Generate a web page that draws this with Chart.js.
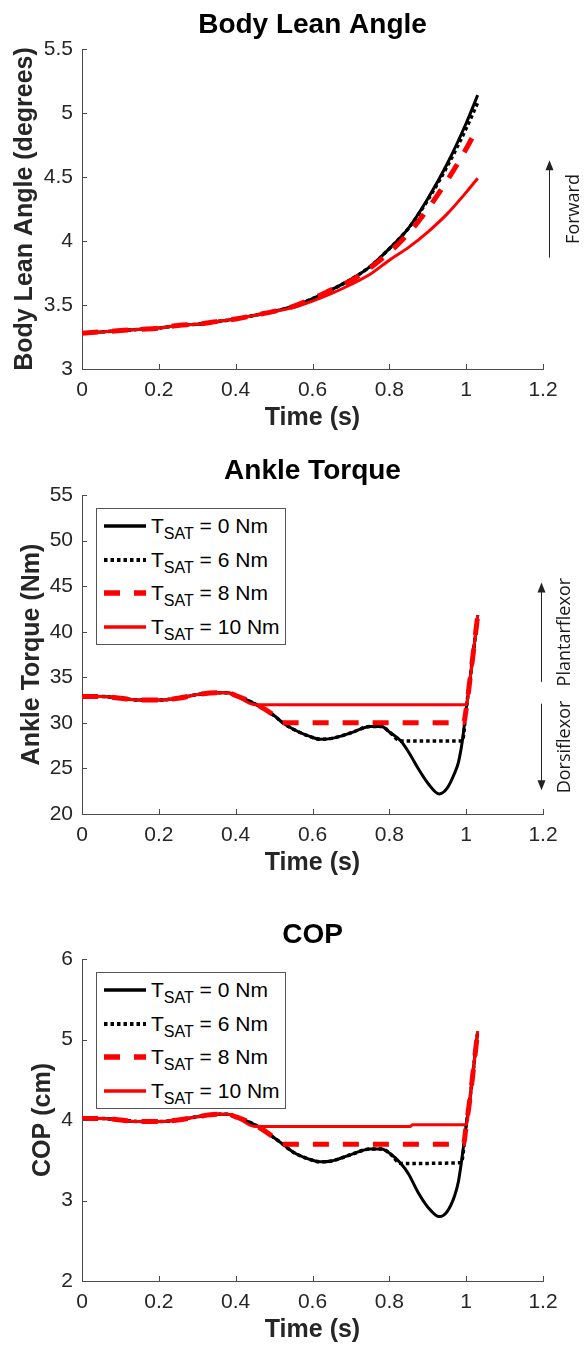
<!DOCTYPE html>
<html>
<head>
<meta charset="utf-8">
<script src="https://cdn.jsdelivr.net/npm/chart.js@4.4.1/dist/chart.umd.min.js"></script>
<style>
  body { margin: 0; background: #fff; }
  #page { position: relative; width: 586px; height: 1347px; overflow: hidden; }
  canvas { position: absolute; left: 0; display: block; }
  .legend { position: absolute; width: 190px; height: 137px; border: 1px solid #555; background: #fff; box-sizing: border-box; }
  .legend-item { position: absolute; left: 7px; height: 30px; display: flex; align-items: center; white-space: nowrap;
    font-family: "Liberation Sans", Arial, sans-serif; font-size: 21px; color: #000; }
  .legend-item svg { margin-right: 5px; flex: none; }
  .legend-item sub { font-size: 16px; vertical-align: -6px; line-height: 0; }
</style>
</head>
<body>
<div id="page">
  <canvas id="lean-chart" width="586" height="433" style="top:0px"></canvas>
  <canvas id="torque-chart" width="586" height="432" style="top:446px"></canvas>
  <canvas id="cop-chart" width="586" height="435" style="top:910px"></canvas>
</div>
<script>
// Axis ticks
const timeTicks = [0, 0.2, 0.4, 0.6, 0.8, 1, 1.2];
const leanTicks = [3, 3.5, 4, 4.5, 5, 5.5];
const torqueTicks = [20, 25, 30, 35, 40, 45, 50, 55];
const copTicks = [2, 3, 4, 5, 6];
const satLevels = [0, 6, 8, 10];

// Body lean angle (degrees)
const leanTime = [0, 0.05, 0.1, 0.15, 0.2, 0.25, 0.3, 0.35, 0.4, 0.45, 0.5, 0.55, 0.6, 0.65, 0.7, 0.75, 0.8, 0.85, 0.9, 0.95, 1.0, 1.03];
const lean0 = [3.28, 3.29, 3.30, 3.31, 3.32, 3.34, 3.35, 3.37, 3.39, 3.42, 3.45, 3.49, 3.55, 3.62, 3.70, 3.80, 3.94, 4.10, 4.33, 4.60, 4.92, 5.14];
const lean6 = [3.28, 3.29, 3.30, 3.31, 3.32, 3.34, 3.35, 3.37, 3.39, 3.42, 3.45, 3.49, 3.55, 3.62, 3.70, 3.80, 3.94, 4.10, 4.32, 4.58, 4.88, 5.08];
const lean8 = [3.28, 3.29, 3.30, 3.31, 3.32, 3.34, 3.35, 3.37, 3.39, 3.42, 3.45, 3.49, 3.55, 3.62, 3.69, 3.79, 3.91, 4.06, 4.25, 4.47, 4.72, 4.89];
const lean10 = [3.28, 3.29, 3.30, 3.31, 3.32, 3.34, 3.35, 3.37, 3.39, 3.42, 3.45, 3.48, 3.53, 3.59, 3.66, 3.74, 3.85, 3.95, 4.07, 4.21, 4.38, 4.49];

// Ankle torque (Nm)
const torqueTime0 = [0, 0.05, 0.1, 0.15, 0.2, 0.25, 0.3, 0.35, 0.38, 0.4, 0.45, 0.5, 0.52, 0.55, 0.6, 0.62, 0.65, 0.7, 0.75, 0.78, 0.8, 0.83, 0.85, 0.875, 0.9, 0.93, 0.95, 0.97, 0.98, 0.99, 1.0, 1.01, 1.02, 1.03];
const torque0 = [32.9, 32.9, 32.7, 32.5, 32.5, 32.7, 33.1, 33.3, 33.3, 33.0, 32.1, 30.8, 30.1, 29.3, 28.4, 28.2, 28.3, 28.9, 29.6, 29.6, 29.0, 28.0, 26.8, 25.0, 23.4, 22.2, 22.8, 24.5, 25.7, 28.0, 31.5, 34.8, 38.2, 41.8];
const torqueTime6 = [0, 0.05, 0.1, 0.15, 0.2, 0.25, 0.3, 0.35, 0.38, 0.4, 0.45, 0.5, 0.52, 0.55, 0.6, 0.62, 0.65, 0.7, 0.75, 0.78, 0.8, 0.83, 0.99, 1.0, 1.01, 1.02, 1.03];
const torque6 = [32.9, 32.9, 32.7, 32.5, 32.5, 32.7, 33.1, 33.3, 33.3, 33.0, 32.1, 30.8, 30.1, 29.3, 28.4, 28.2, 28.3, 28.9, 29.6, 29.6, 29.0, 28.0, 28.0, 31.5, 34.8, 38.2, 41.8];
const torqueTime8 = [0, 0.05, 0.1, 0.15, 0.2, 0.25, 0.3, 0.35, 0.38, 0.4, 0.45, 0.5, 0.52, 0.993, 1.0, 1.01, 1.02, 1.03];
const torque8 = [32.9, 32.9, 32.7, 32.5, 32.5, 32.7, 33.1, 33.3, 33.3, 33.0, 32.1, 30.8, 30.0, 30.0, 31.5, 34.8, 38.2, 41.8];
const torqueTime10 = [0, 0.05, 0.1, 0.15, 0.2, 0.25, 0.3, 0.35, 0.38, 0.4, 0.45, 1.0, 1.01, 1.02, 1.03];
const torque10 = [32.9, 32.9, 32.7, 32.5, 32.5, 32.7, 33.1, 33.3, 33.3, 33.0, 32.0, 32.0, 34.8, 38.2, 41.8];

// COP (cm)
const copTime0 = [0, 0.05, 0.1, 0.15, 0.2, 0.25, 0.3, 0.35, 0.38, 0.4, 0.45, 0.5, 0.52, 0.55, 0.6, 0.62, 0.65, 0.7, 0.75, 0.78, 0.8, 0.83, 0.85, 0.875, 0.9, 0.93, 0.95, 0.97, 0.98, 0.99, 1.0, 1.01, 1.02, 1.03];
const cop0 = [4.02, 4.02, 4.00, 3.98, 3.98, 4.00, 4.04, 4.07, 4.07, 4.04, 3.94, 3.78, 3.71, 3.60, 3.50, 3.48, 3.49, 3.57, 3.64, 3.64, 3.59, 3.46, 3.33, 3.10, 2.92, 2.80, 2.86, 3.06, 3.24, 3.56, 3.93, 4.27, 4.68, 5.10];
const copTime6 = [0, 0.05, 0.1, 0.15, 0.2, 0.25, 0.3, 0.35, 0.38, 0.4, 0.45, 0.5, 0.52, 0.55, 0.6, 0.62, 0.65, 0.7, 0.75, 0.78, 0.8, 0.83, 0.987, 1.0, 1.01, 1.02, 1.03];
const cop6 = [4.02, 4.02, 4.00, 3.98, 3.98, 4.00, 4.04, 4.07, 4.07, 4.04, 3.94, 3.78, 3.71, 3.60, 3.50, 3.48, 3.49, 3.57, 3.64, 3.64, 3.59, 3.46, 3.47, 3.93, 4.27, 4.68, 5.10];
const copTime8 = [0, 0.05, 0.1, 0.15, 0.2, 0.25, 0.3, 0.35, 0.38, 0.4, 0.45, 0.5, 0.52, 0.993, 1.0, 1.01, 1.02, 1.03];
const cop8 = [4.02, 4.02, 4.00, 3.98, 3.98, 4.00, 4.04, 4.07, 4.07, 4.04, 3.94, 3.78, 3.70, 3.70, 3.93, 4.27, 4.68, 5.10];
const copTime10 = [0, 0.05, 0.1, 0.15, 0.2, 0.25, 0.3, 0.35, 0.38, 0.4, 0.45, 0.855, 0.86, 1.0, 1.01, 1.02, 1.03];
const cop10 = [4.02, 4.02, 4.00, 3.98, 3.98, 4.00, 4.04, 4.07, 4.07, 4.04, 3.92, 3.92, 3.94, 3.94, 4.27, 4.68, 5.10];

// Line styles for T_SAT = 0, 6, 8, 10 Nm
const seriesStyles = [
  { color: "#000000", width: 3, dash: [], order: 4 },
  { color: "#000000", width: 3.5, dash: [3.5, 3], order: 3 },
  { color: "#ff0000", width: 5, dash: [16, 14], order: 2 },
  { color: "#ff0000", width: 3, dash: [], order: 1 },
];

const axisColor = "#4a4a4a";
const textColor = "#262626";
Chart.defaults.font.family = '"Liberation Sans", Arial, Helvetica, sans-serif';
Chart.defaults.color = textColor;

function series(times, values, i) {
  const s = seriesStyles[i];
  return {
    label: "TSAT = " + satLevels[i] + " Nm",
    data: times.map((t, k) => ({ x: t, y: values[k] })),
    borderColor: s.color,
    borderWidth: s.width,
    borderDash: s.dash,
    order: s.order,
    pointRadius: 0,
    fill: false,
    cubicInterpolationMode: "monotone",
  };
}

// MATLAB style inward tick marks
const inwardTicks = {
  id: "inwardTicks",
  afterDraw(chart) {
    const { ctx, chartArea: a, scales } = chart;
    ctx.save();
    ctx.strokeStyle = axisColor;
    ctx.lineWidth = 1;
    ctx.beginPath();
    scales.x.ticks.forEach((t) => {
      const px = Math.round(scales.x.getPixelForValue(t.value)) + 0.5;
      ctx.moveTo(px, a.bottom);
      ctx.lineTo(px, a.bottom - 5);
    });
    scales.y.ticks.forEach((t) => {
      const py = Math.round(scales.y.getPixelForValue(t.value)) + 0.5;
      ctx.moveTo(a.left, py);
      ctx.lineTo(a.left + 5, py);
    });
    ctx.stroke();
    ctx.restore();
  },
};

// Direction arrows on the right side
const sideArrows = {
  id: "sideArrows",
  afterDraw(chart, args, opts) {
    const { ctx, chartArea: a, scales } = chart;
    (opts.items || []).forEach((item) => {
      const x = Math.round(a.right + item.dx) + 0.5;
      const y0 = scales.y.getPixelForValue(item.from);
      const y1 = scales.y.getPixelForValue(item.to);
      const dir = y1 < y0 ? -1 : 1;
      ctx.save();
      ctx.strokeStyle = "#222";
      ctx.fillStyle = "#222";
      ctx.lineWidth = 1;
      ctx.beginPath();
      ctx.moveTo(x, y0);
      ctx.lineTo(x, y1 - dir * 8);
      ctx.stroke();
      ctx.beginPath();
      ctx.moveTo(x, y1);
      ctx.lineTo(x - 4, y1 - dir * 10);
      ctx.lineTo(x + 4, y1 - dir * 10);
      ctx.closePath();
      ctx.fill();
      ctx.translate(x + item.textDx, (y0 + y1) / 2);
      ctx.rotate(-Math.PI / 2);
      ctx.font = '18px "Open Sans", "Noto Sans", sans-serif';
      ctx.fillStyle = "#1a1a1a";
      ctx.textAlign = "center";
      ctx.textBaseline = "middle";
      ctx.fillText(item.text, 0, 0);
      ctx.restore();
    });
  },
};

function makeChart(canvasId, cfg) {
  return new Chart(document.getElementById(canvasId), {
    type: "line",
    data: { datasets: cfg.datasets },
    options: {
      responsive: false,
      animation: false,
      layout: { padding: { left: 0, right: 43, top: 0, bottom: 0 } },
      plugins: {
        legend: { display: false },
        tooltip: { enabled: false },
        title: {
          display: true,
          fullSize: false,
          text: cfg.title,
          color: "#000",
          font: { size: 28, weight: "bold" },
          padding: { top: 8, bottom: cfg.titleGap },
        },
        sideArrows: { items: cfg.arrows || [] },
      },
      scales: {
        x: {
          type: "linear",
          min: 0,
          max: 1.2,
          afterBuildTicks: (s) => { s.ticks = timeTicks.map((v) => ({ value: v })); },
          afterFit: (s) => { s.height = 64; },
          grid: { display: false, drawTicks: false },
          border: { display: true, color: axisColor, width: 1 },
          ticks: { autoSkip: false, maxRotation: 0, padding: 9, color: textColor, font: { size: 21 }, callback: (v) => String(v) },
          title: { display: true, text: "Time (s)", color: textColor, font: { size: 25, weight: "bold" }, padding: { top: 0, bottom: 0 } },
        },
        y: {
          type: "linear",
          min: cfg.yTicks[0],
          max: cfg.yTicks[cfg.yTicks.length - 1],
          afterBuildTicks: (s) => { s.ticks = cfg.yTicks.map((v) => ({ value: v })); },
          afterFit: (s) => { s.width = 82; },
          grid: { display: false, drawTicks: false },
          border: { display: true, color: axisColor, width: 1 },
          ticks: { autoSkip: false, padding: 9, color: textColor, font: { size: 21 }, callback: (v) => String(v) },
          title: { display: true, text: cfg.yTitle, color: textColor, font: { size: 25, weight: "bold" }, padding: { top: cfg.yTitlePad, bottom: 0 } },
        },
      },
    },
    plugins: [inwardTicks, sideArrows],
  });
}

// HTML legend built from the chart's datasets (needs subscripts)
function addLegend(chart) {
  const canvas = chart.canvas;
  const box = document.createElement("div");
  box.className = "legend";
  box.style.left = chart.chartArea.left + 14 + "px";
  box.style.top = parseFloat(canvas.style.top) + chart.chartArea.top + 13 + "px";
  chart.data.datasets.forEach((ds, i) => {
    const item = document.createElement("div");
    item.className = "legend-item";
    item.style.top = 18 + i * 33.5 - 16 + "px";
    const dash = ds.borderDash.length ? ds.borderDash.join(" ") : "none";
    item.innerHTML =
      '<svg width="42" height="10"><line x1="0" y1="5" x2="42" y2="5" stroke="' + ds.borderColor +
      '" stroke-width="' + (ds.borderWidth + 0.5) + '" stroke-dasharray="' + dash + '"/></svg>' +
      "<span>T<sub>SAT</sub> = " + satLevels[i] + " Nm</span>";
    box.appendChild(item);
  });
  document.getElementById("page").appendChild(box);
}

makeChart("lean-chart", {
  title: "Body Lean Angle",
  titleGap: 7.4,
  yTitle: "Body Lean Angle (degrees)",
  yTitlePad: 10.5,
  yTicks: leanTicks,
  datasets: [series(leanTime, lean0, 0), series(leanTime, lean6, 1), series(leanTime, lean8, 2), series(leanTime, lean10, 3)],
  arrows: [{ from: 3.87, to: 4.63, dx: 6, textDx: 24, text: "Forward" }],
});

const torqueChart = makeChart("torque-chart", {
  title: "Ankle Torque",
  titleGap: 7.4,
  yTitle: "Ankle Torque (Nm)",
  yTitlePad: 17,
  yTicks: torqueTicks,
  datasets: [series(torqueTime0, torque0, 0), series(torqueTime6, torque6, 1), series(torqueTime8, torque8, 2), series(torqueTime10, torque10, 3)],
  arrows: [
    { from: 34.5, to: 45.4, dx: -2, textDx: 23, text: "Plantarflexor" },
    { from: 32.1, to: 22.6, dx: -2, textDx: 23, text: "Dorsiflexor" },
  ],
});

const copChart = makeChart("cop-chart", {
  title: "COP",
  titleGap: 7.4,
  yTitle: "COP (cm)",
  yTitlePad: 28,
  yTicks: copTicks,
  datasets: [series(copTime0, cop0, 0), series(copTime6, cop6, 1), series(copTime8, cop8, 2), series(copTime10, cop10, 3)],
});

addLegend(torqueChart);
addLegend(copChart);
</script>
</body>
</html>
